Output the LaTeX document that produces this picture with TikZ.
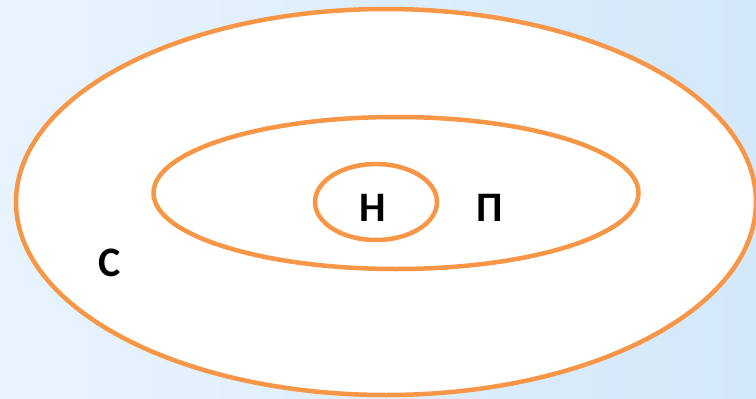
\documentclass[tikz,border=0pt]{standalone}
\usepackage{fontspec}
\setmainfont{Carlito}
\usetikzlibrary{shapes.geometric,positioning}
\definecolor{setorange}{HTML}{F79646}
\definecolor{bgleft}{HTML}{E8F4FD}
\definecolor{bgright}{HTML}{D3E8FA}
\tikzset{
  setring/.style={draw=setorange, line width=4.5pt, ellipse, fill=white, inner sep=0pt},
  setlabel/.style={font=\fontsize{42}{42}\selectfont\bfseries, text=black, inner sep=0pt},
}
\begin{document}
\begin{tikzpicture}[x=1pt, y=-1pt]
  % background
  \shade[left color=bgleft, right color=bgright] (0,0) rectangle (756,399);
  \useasboundingbox (0,0) rectangle (756,399);

  \node[setring, minimum width=740pt, minimum height=386pt] (setC) at (386,202) {};
  \node[setring, minimum width=485pt, minimum height=152pt] (setP) at (396,193) {};
  \node[setring, minimum width=122pt, minimum height=76pt] (setN) at (376,202) {};

  \node[setlabel] (labN) at (373,208) {Н};
  \node[setlabel] (labP) at (490,208) {П};
  \node[setlabel] (labC) at (110,263) {С};
\end{tikzpicture}
\end{document}
